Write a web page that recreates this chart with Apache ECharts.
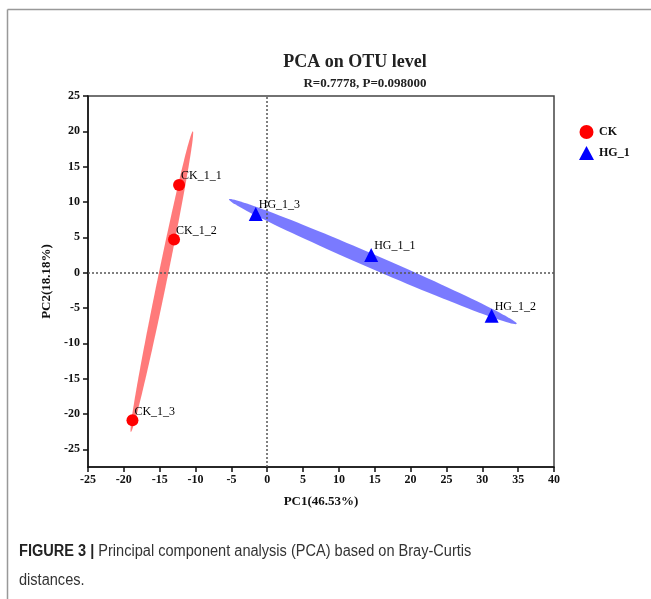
<!DOCTYPE html>
<html lang="en">
<head>
    <meta charset="UTF-8">
    <title>PCA on OTU level</title>
    <script type="text/javascript" src="https://cdn.jsdelivr.net/npm/echarts@6/dist/echarts.min.js"></script>
    <style>
        html, body { margin: 0; padding: 0; background: #fff; }
        .box { width: 651px; height: 599px; }
    </style>
</head>
<body>
    <div class="box"></div>
    <script>
        // sample scores
        var ckNames = ['CK_1_1', 'CK_1_2', 'CK_1_3']
        var ckX = [-12.3, -13.0, -18.8]
        var ckY = [12.4, 4.7, -20.9]

        var hgNames = ['HG_1_1', 'HG_1_2', 'HG_1_3']
        var hgX = [14.5, 31.3, -1.6]
        var hgY = [2.5, -6.1, 8.3]

        var xTicks = [-25, -20, -15, -10, -5, 0, 5, 10, 15, 20, 25, 30, 35, 40]
        var yTicks = [-25, -20, -15, -10, -5, 0, 5, 10, 15, 20, 25]

        var serif = '"Liberation Serif", "Times New Roman", serif'
        var sans = '"Liberation Sans", Arial, sans-serif'

        function toPoints(xs, ys, names) {
            var arr = []
            for (var i = 0; i < xs.length; i++) {
                arr.push({ name: names[i], value: [xs[i], ys[i]] })
            }
            return arr
        }

        // confidence ellipse from the group covariance
        function ellipse(xs, ys, kMajor, kMinor) {
            var n = xs.length
            var mx = 0, my = 0
            for (var i = 0; i < n; i++) { mx += xs[i]; my += ys[i] }
            mx /= n; my /= n
            var sxx = 0, syy = 0, sxy = 0
            for (var i = 0; i < n; i++) {
                sxx += (xs[i] - mx) * (xs[i] - mx)
                syy += (ys[i] - my) * (ys[i] - my)
                sxy += (xs[i] - mx) * (ys[i] - my)
            }
            sxx /= n - 1; syy /= n - 1; sxy /= n - 1
            var tr = sxx + syy, det = sxx * syy - sxy * sxy
            var d = Math.sqrt(tr * tr / 4 - det)
            var l1 = tr / 2 + d, l2 = Math.max(tr / 2 - d, 0)
            var ang = Math.atan2(l1 - sxx, sxy)
            var a = kMajor * Math.sqrt(l1), b = kMinor * Math.sqrt(l2)
            var pts = []
            for (var j = 0; j <= 120; j++) {
                var t = j / 120 * Math.PI * 2
                pts.push([
                    mx + a * Math.cos(t) * Math.cos(ang) - b * Math.sin(t) * Math.sin(ang),
                    my + a * Math.cos(t) * Math.sin(ang) + b * Math.sin(t) * Math.cos(ang)
                ])
            }
            return pts
        }

        function ellipseSeries(xs, ys, color) {
            var pts = ellipse(xs, ys, 1.22, 1.5)
            return {
                type: 'custom',
                silent: true,
                z: 1,
                data: [[xs[0], ys[0]]],
                renderItem: function (params, api) {
                    return {
                        type: 'polygon',
                        shape: { points: pts.map(function (p) { return api.coord(p) }) },
                        style: { fill: color }
                    }
                }
            }
        }

        var pointLabel = {
            show: true,
            position: 'right',
            distance: 0,
            offset: [-4, -9],
            formatter: '{b}',
            fontFamily: serif,
            fontSize: 12,
            color: '#000'
        }

        let oBox = document.querySelector('.box')
        let chart = echarts.init(oBox)

        let option = {
            animation: false,
            grid: { left: 88, right: 97, top: 96, bottom: 132, show: true, borderColor: '#444', borderWidth: 1.5 },
            legend: {
                data: ['CK', 'HG_1'],
                orient: 'vertical',
                left: 574,
                top: 120,
                itemWidth: 15,
                itemHeight: 14,
                itemGap: 7,
                textStyle: { fontFamily: serif, fontWeight: 'bold', fontSize: 12, color: '#111' }
            },
            xAxis: {
                type: 'value',
                min: -25,
                max: 40,
                interval: 5,
                name: 'PC1(46.53%)',
                nameLocation: 'middle',
                nameGap: 28,
                nameTextStyle: { fontFamily: serif, fontWeight: 'bold', fontSize: 13, color: '#111' },
                axisLine: { onZero: false, lineStyle: { color: '#111', width: 1.5 } },
                axisTick: { length: 5, lineStyle: { color: '#111', width: 1.5 } },
                axisLabel: { customValues: xTicks, margin: 7, fontFamily: serif, fontWeight: 'bold', fontSize: 12, color: '#111' },
                splitLine: { show: false }
            },
            yAxis: {
                type: 'value',
                min: -27.5,
                max: 25,
                name: 'PC2(18.18%)',
                nameLocation: 'middle',
                nameGap: 33,
                nameTextStyle: { fontFamily: serif, fontWeight: 'bold', fontSize: 13, color: '#111' },
                axisLine: { onZero: false, lineStyle: { color: '#111', width: 1.5 } },
                axisTick: { customValues: yTicks, length: 5, lineStyle: { color: '#111', width: 1.5 } },
                axisLabel: { customValues: yTicks, margin: 8, fontFamily: serif, fontWeight: 'bold', fontSize: 12, color: '#111' },
                splitLine: { show: false }
            },
            series: [
                ellipseSeries(ckX, ckY, 'rgba(255, 0, 0, 0.52)'),
                ellipseSeries(hgX, hgY, 'rgba(0, 0, 255, 0.52)'),
                {
                    name: 'CK',
                    type: 'scatter',
                    symbol: 'circle',
                    symbolSize: 12,
                    z: 3,
                    itemStyle: { color: '#ff0000', opacity: 1 },
                    label: pointLabel,
                    data: toPoints(ckX, ckY, ckNames),
                    markLine: {
                        silent: true,
                        symbol: ['none', 'none'],
                        label: { show: false },
                        lineStyle: { type: [2, 2], color: '#555', width: 1.5 },
                        data: [{ xAxis: 0 }, { yAxis: 0 }]
                    }
                },
                {
                    name: 'HG_1',
                    type: 'scatter',
                    symbol: 'triangle',
                    symbolSize: 14,
                    z: 3,
                    itemStyle: { color: '#0000ff', opacity: 1 },
                    label: pointLabel,
                    data: toPoints(hgX, hgY, hgNames)
                }
            ],
            graphic: [
                { type: 'line', shape: { x1: 7.5, y1: 9.5, x2: 651, y2: 9.5 }, style: { stroke: '#999', lineWidth: 1.5 } },
                { type: 'line', shape: { x1: 7.5, y1: 9.5, x2: 7.5, y2: 599 }, style: { stroke: '#999', lineWidth: 1.5 } },
                {
                    type: 'text', x: 355, y: 62,
                    style: { text: 'PCA on OTU level', fontFamily: serif, fontWeight: 'bold', fontSize: 18, fill: '#222', align: 'center', verticalAlign: 'middle' }
                },
                {
                    type: 'text', x: 365, y: 84,
                    style: { text: 'R=0.7778, P=0.098000', fontFamily: serif, fontWeight: 'bold', fontSize: 13, fill: '#222', align: 'center', verticalAlign: 'middle' }
                },
                {
                    type: 'text', x: 19, y: 552, scaleX: 0.91,
                    style: {
                        text: '{b|FIGURE 3 |} Principal component analysis (PCA) based on Bray-Curtis',
                        fontFamily: sans, fontSize: 16, fill: '#333', verticalAlign: 'middle',
                        rich: { b: { fontFamily: sans, fontWeight: 'bold', fontSize: 16, fill: '#222' } }
                    }
                },
                {
                    type: 'text', x: 19, y: 581, scaleX: 0.91,
                    style: { text: 'distances.', fontFamily: sans, fontSize: 16, fill: '#333', verticalAlign: 'middle' }
                }
            ]
        }

        chart.setOption(option)
    </script>
</body>
</html>
